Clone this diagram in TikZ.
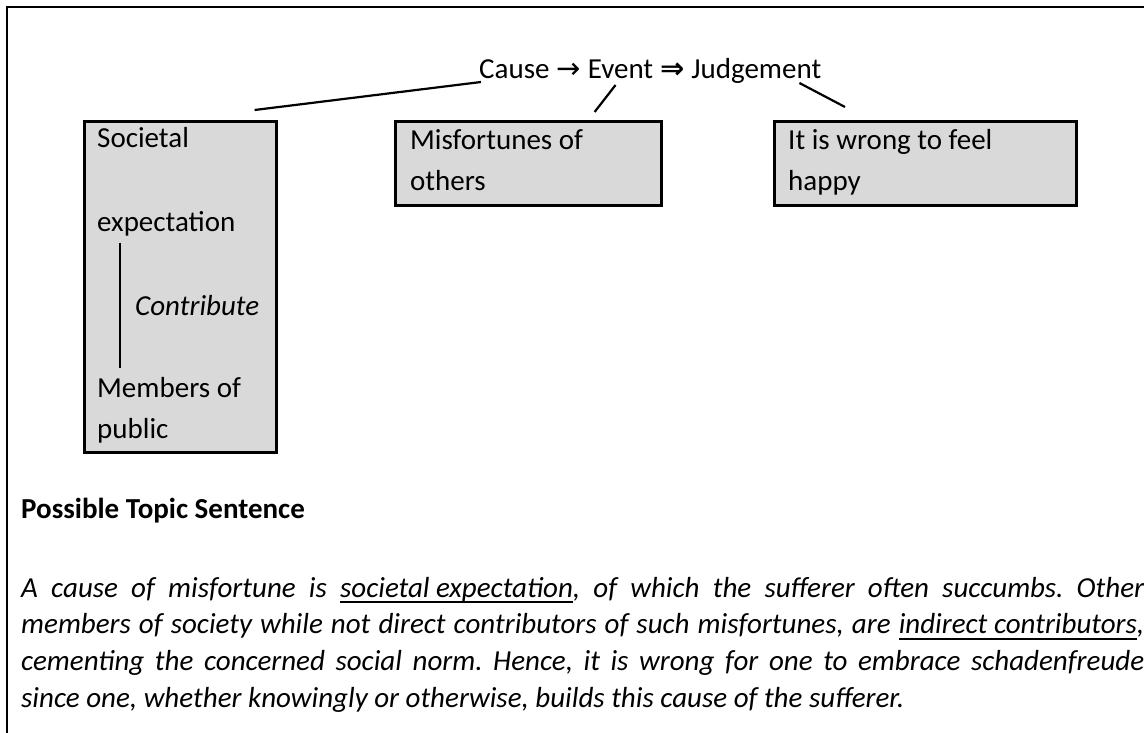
\documentclass[tikz,border=0pt]{standalone}
\usepackage{fontspec}
\setmainfont{Carlito}
\newfontfamily\symfont{DejaVu Sans}
\usepackage{tikz}
\usetikzlibrary{positioning}
\definecolor{boxgray}{HTML}{D9D9D9}
\newcommand{\bodyfont}{\fontsize{29}{41}\selectfont}
\newcommand{\parafont}{\fontsize{29}{36.7}\selectfont}
\newcommand{\ulword}[1]{\setbox0\hbox{#1}\rlap{\vrule width\wd0 height -4pt depth 5.8pt}\box0}
\newcommand{\gap}{\kern0.226em}

\begin{document}
\begin{tikzpicture}[x=1pt, y=-1pt,
      gbox/.style={rectangle, draw=black, line width=2.6pt, fill=boxgray,
                   anchor=north west, inner sep=0pt},
      txt/.style={inner sep=0pt, anchor=base west, font=\bodyfont, align=left},
      word/.style={inner sep=0pt, anchor=base west, font=\bodyfont},
      link/.style={line width=2.2pt}
    ]
      \useasboundingbox (0,0) rectangle (1144,733);
      % outer frame
      \draw[line width=2.5pt] (7,733) -- (7,7) -- (1144,7);

      % heading
      \node[word] (cause) at (479,79) {Cause};
      \node[word] (to) at (cause.base east) {\gap{\symfont →}\gap};
      \node[word] (event) at (to.base east) {Event};
      \node[word] (then) at (event.base east) {\gap{\symfont\bfseries ⇒}\gap};
      \node[word] (judge) at (then.base east) {Judgement};

      % boxes
      \node[gbox, minimum width=192pt, minimum height=331pt] (socbox) at (83,120) {};
      \node[gbox, minimum width=266pt, minimum height=84pt] (misbox) at (394,120) {};
      \node[gbox, minimum width=302pt, minimum height=84pt] (wrongbox) at (773,120) {};

      % base of a two-line node is its last line
      \node[txt] (soc) at (97,148) {Societal};
      \node[txt] (expect) at (97,232) {expectation};
      \node[txt] (contrib) at (135,315) {\itshape Contribute};
      \node[txt] (members) at (97,438) {Members of\\public};
      \node[txt] (mis) at (410,190) {Misfortunes of\\others};
      \node[txt] (wrong) at (788,190) {It is wrong to feel\\happy};

      \draw[line width=2pt] ([xshift=23pt,yshift=-6pt]expect.south west)
        -- ([xshift=23pt,yshift=9pt]members.north west);

      \draw[link] ([xshift=-23pt,yshift=10pt]socbox.north east) -- ([xshift=2pt,yshift=-3pt]cause.base west);
      \draw[link] ([xshift=-68pt,yshift=8pt]misbox.north east) -- ([xshift=28pt,yshift=-6pt]event.base west);
      \draw[link] ([xshift=-22pt,yshift=-4pt]judge.base east) -- ([xshift=72pt,yshift=13pt]wrongbox.north west);

      % topic sentence
      \node[word] (topic) at (21,518) {\bfseries Possible Topic Sentence};
      \node[txt, text width=1123pt, align=justify, font=\parafont] (para) at (21,597)
        {\noindent\frenchspacing\itshape A cause of misfortune is \ulword{societal expectation}, of which the sufferer often succumbs. Other\linebreak
         members of society while not direct contributors of such misfortunes, are \ulword{indirect contributors},\linebreak
         cementing the concerned social norm. Hence, it is wrong for one to embrace schadenfreude\linebreak
         since one, whether knowingly or otherwise, builds this cause of the sufferer.};
    \end{tikzpicture}
\end{document}
